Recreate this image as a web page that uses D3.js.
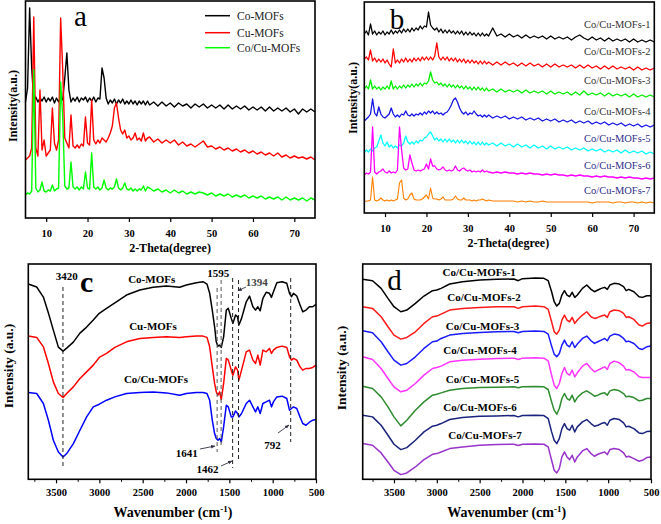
<!DOCTYPE html>
<html><head><meta charset="utf-8">
<script src="https://cdn.jsdelivr.net/npm/d3@7"></script>
<style>body{margin:0;background:#fff}svg{display:block}</style>
</head><body>
<svg id="chart" width="661" height="524"></svg>
<script>
// ---------- DATA ----------
const thetaGrid = [5,5.5,6,6.5,7,7.5,8,8.5,9,9.5,10,10.5,11,11.5,12,12.5,13,13.5,14,14.5,15,15.5,16,16.5,17,17.5,18,18.5,19,19.5,20,20.5,21,21.5,22,22.5,23,23.5,24,24.5,25,25.5,26,26.5,27,27.5,28,28.5,29,29.5,30,30.5,31,31.5,32,32.5,33,33.5,34,34.5,35,36,37,38,39,40,41,42,43,44,45,46,47,48,49,50,51,52,53,54,55,56,57,58,59,60,61,62,63,64,65,66,67,68,69,70,71,72,73,74,75];
const xrdTicks = [10,20,30,40,50,60,70];

const xrdA_Co = [116,130,210,150,117,121,116,120,117,121, 116,120,117,121,115,120,116,121,118,140, 165,128,116,120,117,121,116,120,118,121, 116,120,117,121,116,120,119,150,140,120, 114,118,115,119,114,118,115,119,114,117, 114,118,114,117,113,117,114,117,113,117, 113, 116,112,116,112,115,111,115,112,114,110, 114,111,114,110,113,110,113,109,113,109, 112,109,112,108,111,108,111,107,111,107, 110,107,110,106,109,104,109,106,109,106];
const xrdA_Cu = [58,60,62,70,201,70,62,128,68,78, 62,65,68,110,75,68,78,200,148,80, 75,70,103,72,70,73,70,74,72,101, 75,73,118,78,74,78,75,80,78,76, 80,85,92,110,115,100,88,84,88,80, 82,78,80,85,78,80,77,85,77,80, 81, 76,79,75,78,75,78,73,76,72,74, 71,74,77,71,72,69,71,68,70,67, 69,66,68,65,67,64,66,63,65,62, 65,61,63,60,62,60,61,59,61,58];
const xrdA_CoCu = [23,25,24,27,148,30,26,28,36,27, 26,28,27,33,27,29,30,136,101,32, 29,30,56,31,29,31,28,31,29,46, 30,29,65,31,29,31,28,30,38,30, 28,30,29,31,39,30,28,30,35,29, 28,30,27,29,27,29,28,32,27,31, 30, 27,29,26,28,25,28,25,27,24,26, 24,26,25,23,25,22,24,22,24,21, 23,21,23,20,22,20,22,19,21,19, 21,18,21,18,20,18,20,17,20,18];
const legendA = ["Co-MOFs","Cu-MOFs","Co/Cu-MOFs"];

const xrdB_1 = [179,182,178,189,179,182,178,181,179,182, 178,181,179,183,179,182,180,183,180,184, 181,184,181,185,182,185,183,187,184,187, 186,201,188,185,183,185,181,184,180,183, 180,183,180,182,179,182,179,182,178,181, 178,181,178,180,177,180,177,180,177,179, 177, 185,177,179,176,179,176,178,175,178,175, 177,175,177,174,177,174,176,174,176,173, 176,178,175,173,176,173,175,172,175,172, 174,172,174,171,174,171,173,171,173,171];
const xrdB_2 = [154,156,153,163,152,155,151,154,151,154, 150,153,149,146,164,150,153,150,154,151, 155,151,154,151,155,152,155,152,156,153, 156,153,156,153,157,170,156,153,156,153, 156,152,155,152,155,151,154,151,154,150, 153,150,153,150,152,149,152,149,152,149, 151, 148,151,148,151,148,150,147,150,147,150, 147,149,146,149,146,149,146,148,146,148, 145,148,145,148,145,147,144,147,144,147, 144,146,144,146,143,146,143,145,143,145];
const xrdB_3 = [124,127,124,133,124,127,124,126,123,126, 124,127,124,132,124,127,124,127,125,128, 125,128,126,129,126,129,127,130,127,130, 129,132,141,133,130,131,128,130,127,129, 126,129,126,128,125,128,125,127,124,127, 124,126,123,126,123,126,123,125,122,125, 122, 124,121,124,121,123,121,123,120,123,120, 122,120,122,119,122,119,121,119,121,118, 121,118,122,118,120,118,120,117,120,117, 119,117,119,116,119,116,118,116,118,116];
const xrdB_4 = [92,94,96,99,114,100,97,106,99,96, 95,97,99,105,99,96,98,96,99,98, 102,98,97,99,97,99,98,100,98,101, 99,102,100,102,99,101,99,100,98,100, 101,104,108,113,115,111,105,101,99,101, 98,100,99,102,99,97,98,96,98,96, 98, 95,97,95,97,94,96,94,96,93,95, 93,95,92,94,92,94,91,93,91,93, 90,92,90,92,89,91,89,91,88,90, 88,90,87,89,87,89,86,88,86,88];
const xrdB_5 = [60,63,61,64,62,65,66,72,78,70, 67,71,66,68,65,67,65,68,67,70, 77,71,69,71,69,72,70,73,72,75, 76,79,81,77,73,75,72,74,71,74, 71,74,71,73,70,73,70,73,70,72, 69,72,69,71,68,71,68,71,68,70, 68, 70,67,70,67,69,66,69,66,68,65, 68,65,67,64,67,64,66,64,66,63, 65,63,65,62,64,62,64,61,63,61, 63,60,63,60,62,60,62,59,61,59];
const xrdB_6 = [38,40,39,41,86,41,39,41,42,44, 41,40,42,40,41,40,43,86,63,45, 43,44,58,50,43,42,43,42,43,44, 49,44,54,47,47,44,43,44,46,43, 42,43,42,43,47,43,42,44,45,43, 42,43,41,42,41,42,41,43,41,42, 41, 40,41,40,41,40,40,39,40,39,40, 39,39,38,39,38,39,38,38,37,38, 37,38,37,37,36,37,36,37,36,36, 35,36,35,36,35,35,34,35,34,35];
const xrdB_7 = [11,12,12,13,36,13,12,13,15,13, 12,13,12,13,12,13,14,30,33,15, 13,14,18,20,14,13,13,13,14,16, 18,14,25,15,14,14,13,14,16,13, 13,13,13,14,17,14,13,13,15,13, 13,13,12,13,12,13,13,14,13,12, 13, 12,12,12,12,12,12,11,12,11,12, 11,11,12,11,11,11,11,11,11,11, 11,11,11,11,10,11,11,11,11,10, 11,11,10,11,11,10,11,10,11,10];
const labelsB = ["Co/Cu-MOFs-1","Co/Cu-MOFs-2","Co/Cu-MOFs-3","Co/Cu-MOFs-4","Co/Cu-MOFs-5","Co/Cu-MOFs-6","Co/Cu-MOFs-7"];

const irTicks = [3500,3000,2500,2000,1500,1000,500];
const irMinor = [3750,3250,2750,2250,1750,1250,750];

const irWaveC = [3820,3723,3646,3588,3531,3473,3419,3377,3300,3224, 3147,3070,3001,2917,2821,2687,2533,2380,2226,2073, 1996,1881,1804,1758,1727,1697,1670,1651,1631,1612, 1593,1566,1535,1512,1478,1459,1428,1405,1390,1359, 1305,1267,1228,1198,1171,1144,1113,1075,1037,1014, 991,952,891,837,806,783,760,722,684,653, 615,576,538,500];
const irC_Co = [195,192,182,166,149,132,128,131,137,146, 152,159,165.7,170.7,176.3,184,189,191.7,193,191.7, 194,196.3,197.3,195,185.7,169,152.3,137.3,133,134, 131.7,142.3,169,170.7,160.7,155.7,164,162.3,154,160.7, 177.3,183,172.3,169,172.3,168.3,180.7,186.7,185.7,181.7, 187.3,196.3,197.3,195.7,185.7,182.3,185.7,183,174,167.3, 169,172.3,172.3,174.7];
const irC_Cu = [143,141.7,132.3,115.7,97.3,85.7,81.7,85.7,92.3,100.7, 107.3,114,121.7,125.7,131.7,137.3,140.7,141.7,142.3,141.7, 142.3,143,143,141.7,132.3,112.3,95.7,87.3,84,87.3, 79.7,95.7,120.7,119,109,104,112.3,109,99,109, 127.3,129,119,115.7,124,114,129,127.3,130.7,125.7, 129,131.7,133,131.7,122.3,119,120.7,119,112.3,109, 110.7,110.7,111.7,114];
const irC_CoCu = [86.7,85.7,75.7,59,39,27.3,22.3,25.7,35.7,49, 62.3,72.3,75,79,82.3,85.7,86.7,87.3,86.3,84, 85.7,86.7,86.7,85.7,79,59,45.7,40.7,39,40.7, 37.3,52.3,74,72.3,62.3,62.3,68.3,65.7,62.3,65.7, 75.7,79,72.3,67.3,72.3,65.7,75.7,77.3,79,72.3, 77.3,82.3,83,80.7,69,70.7,72.3,70.7,62.3,55.7, 54,57,59,59.7];
const labelsC = ["Co-MOFs","Cu-MOFs","Co/Cu-MOFs"];
const peaksC = [3420,1641,1595,1462,1394,792];

const irWaveD = [3865,3750,3650,3570,3500,3420,3350,3250,3150,3050, 3000,2950,2850,2700,2500,2300,2100,2050,2000,1850, 1750,1700,1660,1630,1600,1570,1540,1510,1480,1450, 1420,1390,1360,1300,1250,1200,1160,1120,1080,1040, 1010,980,930,870,820,790,760,700,640,600, 550,500];
const irD_1 = [599,595,572,542,517,502,507,527,549,565, 567,572,585,592,597,599,600,595,601,603, 602,595,562,532,519,527,552,565,552,547, 560,545,552,572,582,569,562,567,572,575, 569,582,587,585,577,565,569,562,547,545, 550,550];
const irD_2 = [517,512,487,457,432,420,425,442,467,487, 489,495,507,512,515,517,517,512,517,519, 517,509,472,442,435,447,477,492,477,472, 485,467,477,492,502,487,482,485,489,492, 485,502,507,505,497,485,487,479,462,459, 467,469];
const irD_3 = [445,439,412,382,357,342,347,367,392,412, 414,422,432,437,440,442,443,439,443,444, 443,435,399,375,367,377,402,417,402,397, 412,395,405,422,429,415,407,412,417,422, 415,429,435,432,422,412,414,407,392,389, 397,399];
const irD_4 = [367,359,332,302,277,262,267,287,312,332, 335,339,352,357,360,362,363,359,363,364, 363,355,312,282,272,287,317,335,317,312, 327,307,319,339,347,332,322,327,332,337, 329,347,354,349,339,327,329,322,307,305, 305,305];
const irD_5 = [279,272,247,217,187,160,177,207,232,252, 255,259,267,272,275,276,277,274,277,278, 277,269,232,207,195,212,242,257,242,237, 252,232,245,259,265,257,249,252,257,259, 252,265,269,265,257,247,249,245,235,237, 242,242];
const irD_6 = [192,187,162,132,105,89,95,117,142,159, 162,167,179,185,189,190,191,187,191,192, 191,182,142,117,107,122,152,167,152,147, 162,142,157,172,179,167,159,162,167,170, 162,177,182,179,169,157,159,152,139,137, 143,144];
const irD_7 = [107,102,79,52,27,14,19,37,59,75, 77,82,92,97,102,104,105,101,105,106, 105,97,57,27,19,32,67,82,67,59, 72,52,67,85,92,77,69,75,79,82, 74,89,92,89,79,67,69,62,54,57, 65,67];
const labelsD = ["Co/Cu-MOFs-1","Co/Cu-MOFs-2","Co/Cu-MOFs-3","Co/Cu-MOFs-4","Co/Cu-MOFs-5","Co/Cu-MOFs-6","Co/Cu-MOFs-7"];

// ---------- DRAWING ----------
const FONT = "'Liberation Serif','Times New Roman',serif";
const svg = d3.select('#chart');

function frame(x, y) {
  const [x0, x1] = x.range(), [y0, y1] = y.range();
  svg.append('rect').attr('x', Math.min(x0, x1)).attr('y', Math.min(y0, y1))
    .attr('width', Math.abs(x1 - x0)).attr('height', Math.abs(y1 - y0))
    .attr('fill', 'none').attr('stroke', '#000').attr('stroke-width', 1.6);
}
function xAxis(x, yPos, major, minor, labelBase, fs) {
  const g = svg.append('g').attr('transform', `translate(0,${yPos})`);
  g.call(d3.axisBottom(x).tickValues(major).tickSize(4).tickSizeOuter(0).tickFormat(d3.format('d')));
  g.select('.domain').remove();
  g.selectAll('.tick line').attr('stroke', '#000').attr('stroke-width', 1.2);
  g.selectAll('.tick text').attr('font-family', FONT).attr('font-weight', 'bold')
    .attr('font-size', fs).attr('fill', '#000').attr('y', labelBase - yPos).attr('dy', 0);
  if (minor) {
    const gm = svg.append('g').attr('transform', `translate(0,${yPos})`);
    gm.call(d3.axisBottom(x).tickValues(minor).tickSize(2.5).tickSizeOuter(0).tickFormat(''));
    gm.select('.domain').remove();
    gm.selectAll('.tick line').attr('stroke', '#000').attr('stroke-width', 1);
  }
}
function text(x, y, s, o = {}) {
  const t = svg.append('text').attr('x', x).attr('y', y).text(s)
    .attr('font-family', FONT).attr('font-size', o.size || 11)
    .attr('font-weight', o.weight || 'normal').attr('fill', o.fill || '#000')
    .attr('text-anchor', o.anchor || 'middle');
  return t;
}
function yTitle(x, y, s, size) {
  svg.append('text').attr('transform', `translate(${x},${y}) rotate(-90)`)
    .attr('text-anchor', 'middle').attr('dominant-baseline', 'central')
    .attr('font-family', FONT).attr('font-weight', 'bold').attr('font-size', size).text(s);
}
function drawSeries(x, y, grid, data, color, width) {
  const line = d3.line().x((d, i) => x(grid[i])).y(d => y(d));
  svg.append('path').datum(data.slice(0, grid.length)).attr('d', line)
    .attr('fill', 'none').attr('stroke', color).attr('stroke-width', width)
    .attr('stroke-linejoin', 'round');
}

// ---- Panel a ----
{
  const x = d3.scaleLinear().domain([5, 75]).range([25.5, 315]);
  const y = d3.scaleLinear().domain([0, 217]).range([218, 1]);
  const cols = ['#000000', '#ff0000', '#00ff00'];
  [xrdA_Co, xrdA_Cu, xrdA_CoCu].forEach((s, k) => drawSeries(x, y, thetaGrid, s, cols[k], 1.4));
  frame(x, y);
  xAxis(x, 218, xrdTicks, null, 236.5, 10.5);
  text(170, 251.5, '2-Theta(degree)', { size: 12, weight: 'bold' });
  yTitle(13, 106, 'Intensity(a.u.)', 12);
  text(80.5, 26, 'a', { size: 29 });
  const ly = [15.7, 32.7, 47.7];
  legendA.forEach((l, k) => {
    svg.append('line').attr('x1', 205).attr('x2', 230).attr('y1', ly[k]).attr('y2', ly[k])
      .attr('stroke', cols[k]).attr('stroke-width', 1.5);
    text(237, ly[k] + 4, l, { size: 11.5, anchor: 'start', fill: '#222' });
  });
}

// ---- Panel b ----
{
  const x = d3.scaleLinear().domain([5, 75]).range([364.3, 654.3]);
  const y = d3.scaleLinear().domain([0, 211]).range([213, 2]);
  const cols = ['#000000', '#ff0000', '#00ee00', '#1414e6', '#00ffff', '#ff00ff', '#ff7f00'];
  const series = [xrdB_1, xrdB_2, xrdB_3, xrdB_4, xrdB_5, xrdB_6, xrdB_7];
  series.forEach((s, k) => drawSeries(x, y, thetaGrid, s, cols[k], k === 6 ? 1.1 : 1.3));
  frame(x, y);
  xAxis(x, 213, xrdTicks, null, 232, 10.5);
  text(508.3, 247, '2-Theta(degree)', { size: 12, weight: 'bold' });
  yTitle(352.7, 98, 'Intensity(a.u.)', 12);
  text(397, 29.3, 'b', { size: 29 });
  const ly = [27.5, 55.2, 83.5, 114.5, 141.5, 168.5, 194.2];
  labelsB.forEach((l, k) => text(650.5, ly[k], l, { size: 10.5, anchor: 'end', fill: k < 4 ? '#333' : '#2e2e8a' }));
}

// ---- Panel c ----
{
  const x = d3.scaleLinear().domain([3820, 500]).range([28.3, 316]);
  const y = d3.scaleLinear().domain([0, 215]).range([479.3, 264]);
  const cols = ['#000000', '#ff0000', '#0000ff'];
  [irC_Co, irC_Cu, irC_CoCu].forEach((s, k) => drawSeries(x, y, irWaveC, s, cols[k], 1.5));
  const ext = { 3420: [287, 466], 1641: [288, 452], 1595: [280, 447], 1462: [278, 468], 1394: [280, 460], 792: [278, 442] };
  peaksC.forEach(p => {
    svg.append('line').attr('x1', x(p)).attr('x2', x(p)).attr('y1', ext[p][0]).attr('y2', ext[p][1])
      .attr('stroke', p === 1641 || p === 1595 ? '#555' : '#222').attr('stroke-width', 1)
      .attr('stroke-dasharray', '4,3');
  });
  frame(x, y);
  xAxis(x, 479.3, irTicks, irMinor, 496, 10.5);
  const tt = text(173, 517, 'Wavenumber (cm', { size: 14, weight: 'bold' });
  tt.append('tspan').attr('dy', -5).attr('font-size', 9).text('-1');
  tt.append('tspan').attr('dy', 5).text(')');
  yTitle(8, 366, 'Intensity (a.u.)', 13.5);
  text(86.7, 291.7, 'c', { size: 30, weight: 'bold' });
  text(151.7, 282.7, labelsC[0], { size: 11, weight: 'bold' });
  text(153, 330, labelsC[1], { size: 11, weight: 'bold' });
  text(156, 383.3, labelsC[2], { size: 11, weight: 'bold' });
  text(66.7, 280, '3420', { size: 11, weight: 'bold' });
  text(218.3, 277.3, '1595', { size: 11, weight: 'bold' });
  text(256.7, 286, '1394', { size: 11, weight: 'bold', fill: '#444' });
  text(186.7, 456.7, '1641', { size: 11, weight: 'bold' });
  text(207.5, 473.3, '1462', { size: 11, weight: 'bold' });
  text(272.5, 449.3, '792', { size: 11, weight: 'bold' });
  svg.append('defs').append('marker').attr('id', 'arr').attr('viewBox', '0 0 10 10')
    .attr('refX', 9).attr('refY', 5).attr('markerWidth', 5).attr('markerHeight', 5).attr('orient', 'auto')
    .append('path').attr('d', 'M0,1 L10,5 L0,9 z').attr('fill', '#334');
  [[200, 449, 215, 446], [221, 466, 232, 461], [278, 433, 289, 425], [246, 287, 238, 290.7]].forEach(a => {
    svg.append('line').attr('x1', a[0]).attr('y1', a[1]).attr('x2', a[2]).attr('y2', a[3])
      .attr('stroke', '#334').attr('stroke-width', 0.9).attr('marker-end', 'url(#arr)');
  });
}

// ---- Panel d ----
{
  const x = d3.scaleLinear().domain([3865, 500]).range([362.7, 651]);
  const y = d3.scaleLinear().domain([0, 645]).range([479.3, 264]);
  const cols = ['#000000', '#ff1a1a', '#1a1aff', '#ff33ff', '#2e8b2e', '#1a237e', '#9933cc'];
  const series = [irD_1, irD_2, irD_3, irD_4, irD_5, irD_6, irD_7];
  series.forEach((s, k) => drawSeries(x, y, irWaveD, s, cols[k], 1.5));
  frame(x, y);
  xAxis(x, 479.3, irTicks, irMinor, 496, 10.5);
  const tt = text(506.7, 517, 'Wavenumber (cm', { size: 14, weight: 'bold' });
  tt.append('tspan').attr('dy', -5).attr('font-size', 9).text('-1');
  tt.append('tspan').attr('dy', 5).text(')');
  yTitle(341, 368, 'Intensity (a.u.)', 13.5);
  text(394.5, 290, 'd', { size: 29 });
  const lx = [479.2, 484, 482.5, 480, 482.5, 480, 485];
  const ly = [276, 300.7, 330, 354, 382.7, 410.7, 439];
  labelsD.forEach((l, k) => text(lx[k], ly[k], l, { size: 11, weight: 'bold' }));
}
</script>
</body></html>
